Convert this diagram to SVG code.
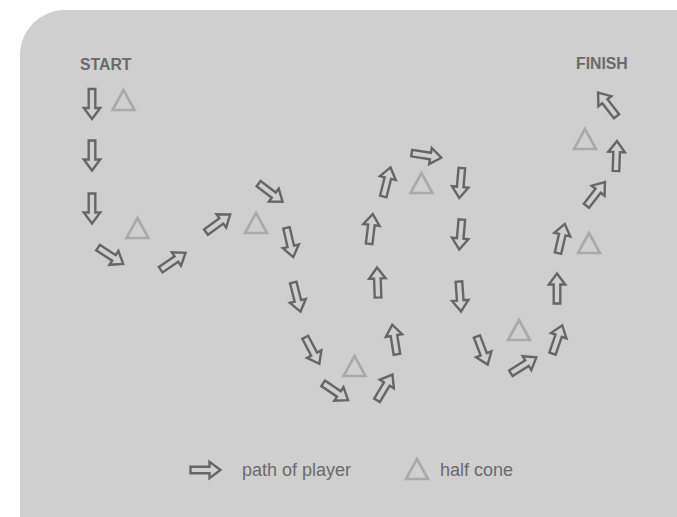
<svg xmlns="http://www.w3.org/2000/svg" xmlns:xlink="http://www.w3.org/1999/xlink" width="677" height="517" viewBox="0 0 677 517">
<style>
.bg{fill:#cfcfcf}
.arr{fill:none;stroke:#666;stroke-width:2.4;stroke-linejoin:miter}
.cone{fill:none;stroke:#a9a9a9;stroke-width:2.6;stroke-linejoin:miter}
.lbl{font-family:"Liberation Sans",Arial,sans-serif;font-weight:bold;font-size:15.8px;fill:#6a6a6a}
.leg{font-family:"Liberation Sans",Arial,sans-serif;font-size:18px;fill:#6a6a6a}
</style>
<defs>
<path id="a" class="arr" d="M-15.5,-3.3 L3.5,-3.3 L3.5,-8.2 L14.5,0 L3.5,8.2 L3.5,3.3 L-15.5,3.3 Z"/>
<path id="c" class="cone" d="M0,-20 L11,0 L-11,0 Z"/>
</defs>
<path class="bg" d="M20,517 L20,55 A45,45 0 0 1 65,10 L677,10 L677,517 Z"/>
<g id="labels">
<text class="lbl" x="80" y="70">START</text>
<text class="lbl" x="576" y="69">FINISH</text>
</g>
<g id="cones">
<use xlink:href="#c" transform="translate(123.5,110)"/>
<use xlink:href="#c" transform="translate(137.5,238)"/>
<use xlink:href="#c" transform="translate(256,233)"/>
<use xlink:href="#c" transform="translate(421.5,193)"/>
<use xlink:href="#c" transform="translate(354.5,376)"/>
<use xlink:href="#c" transform="translate(519,340)"/>
<use xlink:href="#c" transform="translate(589,253)"/>
<use xlink:href="#c" transform="translate(585,149)"/>
</g>
<g id="path">
<use xlink:href="#a" transform="translate(92,104.5) rotate(90)"/>
<use xlink:href="#a" transform="translate(92,156) rotate(90)"/>
<use xlink:href="#a" transform="translate(92,209) rotate(90)"/>
<use xlink:href="#a" transform="translate(111,256) rotate(33)"/>
<use xlink:href="#a" transform="translate(173.5,261) rotate(-34)"/>
<use xlink:href="#a" transform="translate(218.5,223) rotate(-36)"/>
<use xlink:href="#a" transform="translate(271,193) rotate(37)"/>
<use xlink:href="#a" transform="translate(290,243) rotate(77)"/>
<use xlink:href="#a" transform="translate(297,297.5) rotate(76)"/>
<use xlink:href="#a" transform="translate(312.5,351) rotate(62)"/>
<use xlink:href="#a" transform="translate(336,392) rotate(34)"/>
<use xlink:href="#a" transform="translate(385,387) rotate(-59)"/>
<use xlink:href="#a" transform="translate(394.5,339) rotate(-99)"/>
<use xlink:href="#a" transform="translate(377.5,282) rotate(-92)"/>
<use xlink:href="#a" transform="translate(371,228.5) rotate(-83)"/>
<use xlink:href="#a" transform="translate(387,181.5) rotate(-76)"/>
<use xlink:href="#a" transform="translate(427,155.5) rotate(9)"/>
<use xlink:href="#a" transform="translate(460.5,183.5) rotate(95)"/>
<use xlink:href="#a" transform="translate(460.5,235) rotate(95)"/>
<use xlink:href="#a" transform="translate(460,297) rotate(86)"/>
<use xlink:href="#a" transform="translate(482.5,351) rotate(69)"/>
<use xlink:href="#a" transform="translate(524,365) rotate(-32)"/>
<use xlink:href="#a" transform="translate(557.5,339) rotate(-71)"/>
<use xlink:href="#a" transform="translate(557,288) rotate(-90)"/>
<use xlink:href="#a" transform="translate(561.5,238) rotate(-77)"/>
<use xlink:href="#a" transform="translate(596,193.5) rotate(-52)"/>
<use xlink:href="#a" transform="translate(616.5,155.5) rotate(-88)"/>
<use xlink:href="#a" transform="translate(607,104) rotate(-128)"/>
</g>
<g id="legend">
<use xlink:href="#a" transform="translate(206,470)"/>
<text class="leg" x="242" y="476">path of player</text>
<use xlink:href="#c" transform="translate(417,479)"/>
<text class="leg" x="440" y="476">half cone</text>
</g>
</svg>
